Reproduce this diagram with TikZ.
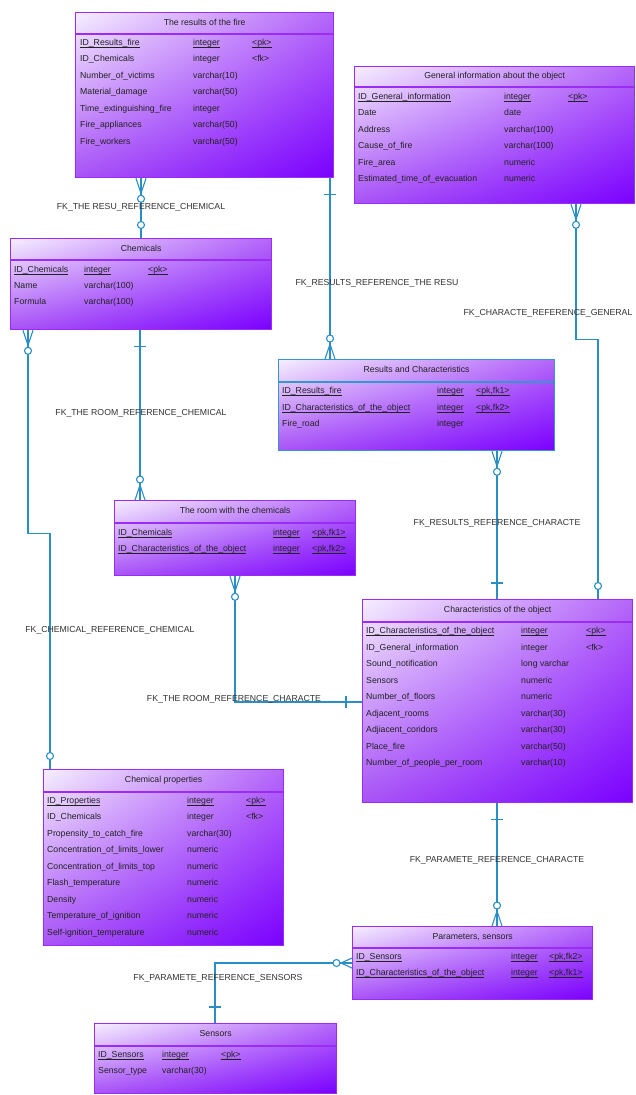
\documentclass[tikz,border=0pt]{standalone}
\usepackage{fontspec}
\setmainfont{Liberation Sans}
\usetikzlibrary{calc,shadings}
\definecolor{gtl}{HTML}{F6EEFF}
\definecolor{gtr}{HTML}{B466F8}
\definecolor{gbl}{HTML}{A853F6}
\definecolor{gbr}{HTML}{7A00FF}
\definecolor{tblline}{HTML}{9B2CF5}
\definecolor{selline}{HTML}{3399CC}
\definecolor{connc}{HTML}{2A8EC6}
\definecolor{txt}{HTML}{222222}
\definecolor{lblc}{HTML}{333333}
\newcommand\fsz{\fontsize{8.7}{10}\selectfont}
% key columns: text with a heavy rule beneath it
\newcommand\pk[1]{\setbox0=\hbox{#1}\rlap{\vrule width\wd0 height -1.4pt depth 2.5pt}\box0}
% one row of a table: name prefix, three column x, row y, three texts
\newcommand\fld[8]{%
  \node[fld] (#1n) at (#2,#5) {#6};
  \node[fld] (#1t) at (#3,#5) {#7};
  \node[fld] (#1k) at (#4,#5) {#8};}
% title band of a table: table, band height, title, rule colour
\newcommand\tblhead[4]{%
  \draw[#4, line width=1.1pt] ($(#1.north west)+(0,#2)$) -- ($(#1.north east)+(0,#2)$);
  \node[hdr] (#1h) at ($(#1.north)+(0,#2/2)$) {#3};}
\tikzset{
  tbl/.style={draw=tblline, line width=1.3pt, inner sep=0pt, anchor=north west,
    upper left=gtl, upper right=gtr, lower left=gbl, lower right=gbr},
  fld/.style={font=\fsz, text=txt, anchor=west, inner sep=0pt, text height=6.5pt, text depth=2pt},
  hdr/.style={font=\fsz, text=txt, inner sep=0pt, text height=6.5pt, text depth=2pt},
  lbl/.style={font=\fsz, text=lblc, inner sep=0pt, text height=6.5pt, text depth=2pt},
  conn/.style={draw=connc, line width=1.1pt},
  many/.pic={\draw[conn] (-5,0) -- (0,15) -- (5,0) (0,0) -- (0,15);
             \draw[conn, fill=white] (0,20.5) circle (3.5);},
  manyshort/.pic={\draw[conn] (-5,0) -- (0,11) -- (5,0) (0,0) -- (0,11);
             \draw[conn, fill=white] (0,15.5) circle (3.5);},
  opt/.pic={\draw[conn, fill=white] (0,13) circle (3.5);},
  one/.pic={\draw[conn] (-6,16) -- (6,16);}
}
\begin{document}
\begin{tikzpicture}[x=1pt,y=-1pt]
\useasboundingbox[fill=white] (0,0) rectangle (636,1095);

% ---------- tables ----------
\node[tbl, minimum width=258pt, minimum height=165pt] (res) at (75,12) {};
\tblhead{res}{22}{The results of the fire}{tblline}
\fld{resA}{80}{193}{252}{43}{\pk{ID\_Results\_fire}}{\pk{integer}}{\pk{<pk>}}
\fld{resB}{80}{193}{252}{59.5}{ID\_Chemicals}{integer}{<fk>}
\fld{resC}{80}{193}{252}{76}{Number\_of\_victims}{varchar(10)}{}
\fld{resD}{80}{193}{252}{92.5}{Material\_damage}{varchar(50)}{}
\fld{resE}{80}{193}{252}{109}{Time\_extinguishing\_fire}{integer}{}
\fld{resF}{80}{193}{252}{125.5}{Fire\_appliances}{varchar(50)}{}
\fld{resG}{80}{193}{252}{142}{Fire\_workers}{varchar(50)}{}

\node[tbl, minimum width=280pt, minimum height=137pt] (gen) at (354,66) {};
\tblhead{gen}{21}{General information about the object}{tblline}
\fld{genA}{358}{504}{568}{97}{\pk{ID\_General\_information}}{\pk{integer}}{\pk{<pk>}}
\fld{genB}{358}{504}{568}{113.5}{Date}{date}{}
\fld{genC}{358}{504}{568}{130}{Address}{varchar(100)}{}
\fld{genD}{358}{504}{568}{146.5}{Cause\_of\_fire}{varchar(100)}{}
\fld{genE}{358}{504}{568}{163}{Fire\_area}{numeric}{}
\fld{genF}{358}{504}{568}{179.5}{Estimated\_time\_of\_evacuation}{numeric}{}

\node[tbl, minimum width=261pt, minimum height=91pt] (chem) at (10,238) {};
\tblhead{chem}{22}{Chemicals}{tblline}
\fld{chemA}{14}{84}{148}{270}{\pk{ID\_Chemicals}}{\pk{integer}}{\pk{<pk>}}
\fld{chemB}{14}{84}{148}{286}{Name}{varchar(100)}{}
\fld{chemC}{14}{84}{148}{302}{Formula}{varchar(100)}{}

\node[tbl, draw=selline, minimum width=276pt, minimum height=91pt] (rc) at (278,359) {};
\tblhead{rc}{23}{Results and Characteristics}{selline}
\fld{rcA}{282}{437}{476}{391}{\pk{ID\_Results\_fire}}{\pk{integer}}{\pk{<pk,fk1>}}
\fld{rcB}{282}{437}{476}{408}{\pk{ID\_Characteristics\_of\_the\_object}}{\pk{integer}}{\pk{<pk,fk2>}}
\fld{rcC}{282}{437}{476}{424}{Fire\_road}{integer}{}

\node[tbl, minimum width=241pt, minimum height=75pt] (room) at (114,500) {};
\tblhead{room}{23}{The room with the chemicals}{tblline}
\fld{roomA}{118}{273}{312}{533}{\pk{ID\_Chemicals}}{\pk{integer}}{\pk{<pk,fk1>}}
\fld{roomB}{118}{273}{312}{549}{\pk{ID\_Characteristics\_of\_the\_object}}{\pk{integer}}{\pk{<pk,fk2>}}

\node[tbl, minimum width=270pt, minimum height=203pt] (char) at (362,599) {};
\tblhead{char}{23}{Characteristics of the object}{tblline}
\fld{charA}{366}{521}{586}{631.5}{\pk{ID\_Characteristics\_of\_the\_object}}{\pk{integer}}{\pk{<pk>}}
\fld{charB}{366}{521}{586}{648}{ID\_General\_information}{integer}{<fk>}
\fld{charC}{366}{521}{586}{664.5}{Sound\_notification}{long varchar}{}
\fld{charD}{366}{521}{586}{681}{Sensors}{numeric}{}
\fld{charE}{366}{521}{586}{697.5}{Number\_of\_floors}{numeric}{}
\fld{charF}{366}{521}{586}{714}{Adjacent\_rooms}{varchar(30)}{}
\fld{charG}{366}{521}{586}{730.5}{Adjiacent\_coridors}{varchar(30)}{}
\fld{charH}{366}{521}{586}{747}{Place\_fire}{varchar(50)}{}
\fld{charI}{366}{521}{586}{763.5}{Number\_of\_people\_per\_room}{varchar(10)}{}

\node[tbl, minimum width=240pt, minimum height=176pt] (props) at (43,769) {};
\tblhead{props}{23}{Chemical properties}{tblline}
\fld{prA}{47}{187}{246}{801}{\pk{ID\_Properties}}{\pk{integer}}{\pk{<pk>}}
\fld{prB}{47}{187}{246}{817.5}{ID\_Chemicals}{integer}{<fk>}
\fld{prC}{47}{187}{246}{834}{Propensity\_to\_catch\_fire}{varchar(30)}{}
\fld{prD}{47}{187}{246}{850.5}{Concentration\_of\_limits\_lower}{numeric}{}
\fld{prE}{47}{187}{246}{867}{Concentration\_of\_limits\_top}{numeric}{}
\fld{prF}{47}{187}{246}{883.5}{Flash\_temperature}{numeric}{}
\fld{prG}{47}{187}{246}{900}{Density}{numeric}{}
\fld{prH}{47}{187}{246}{916.5}{Temperature\_of\_ignition}{numeric}{}
\fld{prI}{47}{187}{246}{933}{Self-ignition\_temperature}{numeric}{}

\node[tbl, minimum width=240pt, minimum height=73pt] (par) at (352,926) {};
\tblhead{par}{22}{Parameters, sensors}{tblline}
\fld{parA}{356}{511}{549}{957}{\pk{ID\_Sensors}}{\pk{integer}}{\pk{<pk,fk2>}}
\fld{parB}{356}{511}{549}{973}{\pk{ID\_Characteristics\_of\_the\_object}}{\pk{integer}}{\pk{<pk,fk1>}}

\node[tbl, minimum width=242pt, minimum height=70pt] (sens) at (94,1023) {};
\tblhead{sens}{23}{Sensors}{tblline}
\fld{senA}{98}{162}{221}{1055}{\pk{ID\_Sensors}}{\pk{integer}}{\pk{<pk>}}
\fld{senB}{98}{162}{221}{1071}{Sensor\_type}{varchar(30)}{}

% ---------- references ----------
\coordinate (c1a) at ($(res.south west)+(66,0)$);
\coordinate (c1b) at ($(chem.north west)+(131,0)$);
\draw[conn] (c1a) -- (c1b);
\pic at (c1a) {many}; \pic[rotate=180] at (c1b) {opt};
\node[lbl] (l1) at (141,207) {FK\_THE RESU\_REFERENCE\_CHEMICAL};

\coordinate (c2a) at ($(res.south west)+(255,0)$);
\coordinate (c2b) at ($(rc.north west)+(52,0)$);
\draw[conn] (c2a) -- (c2b);
\pic at (c2a) {one}; \pic[rotate=180] at (c2b) {many};
\node[lbl] (l2) at (377,283) {FK\_RESULTS\_REFERENCE\_THE RESU};

\coordinate (c3a) at ($(gen.south west)+(222,0)$);
\coordinate (c3b) at ($(char.north west)+(236,0)$);
\draw[conn] (c3a) -- ++(0,135) -| (c3b);
\pic at (c3a) {many}; \pic[rotate=180] at (c3b) {opt};
\node[lbl] (l3) at (548,313) {FK\_CHARACTE\_REFERENCE\_GENERAL};

\coordinate (c4a) at ($(chem.south west)+(130,0)$);
\coordinate (c4b) at ($(room.north west)+(26,0)$);
\draw[conn] (c4a) -- (c4b);
\pic at (c4a) {one}; \pic[rotate=180] at (c4b) {many};
\node[lbl] (l4) at (141,413) {FK\_THE ROOM\_REFERENCE\_CHEMICAL};

\coordinate (c5a) at ($(chem.south west)+(18,0)$);
\coordinate (c5b) at ($(props.north west)+(7,0)$);
\draw[conn] (c5a) -- ++(0,203) -| (c5b);
\pic at (c5a) {many}; \pic[rotate=180] at (c5b) {opt};
\node[lbl] (l5) at (110,630) {FK\_CHEMICAL\_REFERENCE\_CHEMICAL};

\coordinate (c6a) at ($(room.south west)+(121,0)$);
\coordinate (c6b) at ($(char.north west)+(0,103)$);
\draw[conn] (c6a) |- (c6b);
\pic at (c6a) {many}; \pic[rotate=-90] at (c6b) {one};
\node[lbl] (l6) at (234,699) {FK\_THE ROOM\_REFERENCE\_CHARACTE};

\coordinate (c7a) at ($(rc.south west)+(219,0)$);
\coordinate (c7b) at ($(char.north west)+(135,0)$);
\draw[conn] (c7a) -- (c7b);
\pic at (c7a) {many}; \pic[rotate=180] at (c7b) {one};
\node[lbl] (l7) at (497,523) {FK\_RESULTS\_REFERENCE\_CHARACTE};

\coordinate (c8a) at ($(char.south west)+(135,0)$);
\coordinate (c8b) at ($(par.north west)+(145,0)$);
\draw[conn] (c8a) -- (c8b);
\pic at (c8a) {one}; \pic[rotate=180] at (c8b) {many};
\node[lbl] (l8) at (497,860) {FK\_PARAMETE\_REFERENCE\_CHARACTE};

\coordinate (c9a) at ($(par.north west)+(0,37)$);
\coordinate (c9b) at ($(sens.north west)+(121,0)$);
\draw[conn] (c9a) -| (c9b);
\pic[rotate=-90] at (c9a) {manyshort}; \pic[rotate=180] at (c9b) {one};
\node[lbl] (l9) at (218,978) {FK\_PARAMETE\_REFERENCE\_SENSORS};
\end{tikzpicture}
\end{document}
